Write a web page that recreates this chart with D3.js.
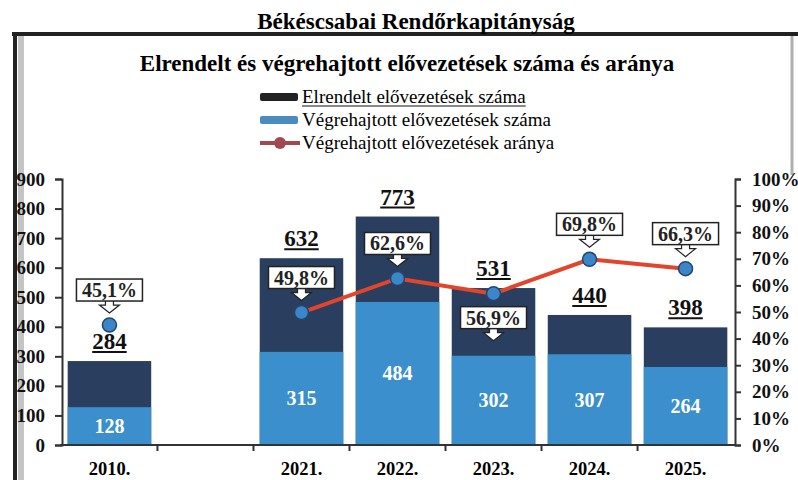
<!DOCTYPE html>
<html>
<head>
<meta charset="utf-8">
<script src="https://cdn.jsdelivr.net/npm/d3@7"></script>
<style>
  body { margin: 0; background: #fff; }
  text { font-family: "Liberation Serif", "Times New Roman", serif; }
</style>
</head>
<body>
<div id="chart"></div>
<script>
// data
var years = ["2010.", "", "2021.", "2022.", "2023.", "2024.", "2025."];
var ordered = [284, null, 632, 773, 531, 440, 398];     // Elrendelt
var executed = [128, null, 315, 484, 302, 307, 264];    // Végrehajtott
var ratio = [45.1, null, 49.8, 62.6, 56.9, 69.8, 66.3]; // arány %
var ratioLabels = ["45,1%", "", "49,8%", "62,6%", "56,9%", "69,8%", "66,3%"];
var calloutSide = ["above", "", "above", "above", "below", "above", "above"];
var leftTicks = [0, 100, 200, 300, 400, 500, 600, 700, 800, 900];
var rightTicks = [0, 10, 20, 30, 40, 50, 60, 70, 80, 90, 100];
var legendNames = ["Elrendelt elővezetések száma", "Végrehajtott elővezetések száma", "Végrehajtott elővezetések aránya"];

var width = 798, height = 480;
var darkBlue = "#2a3f5f", lightBlue = "#3b8fcc", red = "#e2452c";

var svg = d3.select("#chart")
    .append("svg")
    .attr("width", width)
    .attr("height", height);

// frame (scanned page border), drawn first so the labels sit on top
svg.append("line").attr("x1", 21).attr("x2", 21).attr("y1", 36).attr("y2", 480)
    .attr("stroke", "#c4c4c4").attr("stroke-width", 6);
svg.append("line").attr("x1", 15).attr("x2", 15).attr("y1", 32).attr("y2", 480)
    .attr("stroke", "#222").attr("stroke-width", 4);
svg.append("line").attr("x1", 12).attr("x2", 798).attr("y1", 34).attr("y2", 34)
    .attr("stroke", "#222").attr("stroke-width", 4);
svg.append("line").attr("x1", 792).attr("x2", 792).attr("y1", 36).attr("y2", 175)
    .attr("stroke", "#b0b0b0").attr("stroke-width", 3);

// titles
svg.append("text")
    .attr("x", 416).attr("y", 29)
    .attr("text-anchor", "middle")
    .attr("font-size", "23px").attr("font-weight", "bold")
    .text("Békéscsabai Rendőrkapitányság");

svg.append("text")
    .attr("x", 407).attr("y", 71)
    .attr("text-anchor", "middle")
    .attr("font-size", "23px").attr("font-weight", "bold")
    .text("Elrendelt és végrehajtott elővezetések száma és aránya");

// legend
var legend = svg.append("g").attr("transform", "translate(260,97)");
legendNames.forEach(function (name, i) {
    var g = legend.append("g").attr("transform", "translate(0," + (i * 23) + ")");
    if (i < 2) {
        g.append("rect")
            .attr("x", 0).attr("y", -4).attr("width", 38).attr("height", 8)
            .attr("rx", 2)
            .attr("fill", i == 0 ? "#222" : "#4a8cc0");
    } else {
        g.append("line")
            .attr("x1", 0).attr("x2", 40).attr("y1", 0).attr("y2", 0)
            .attr("stroke", "#a04a50").attr("stroke-width", 4);
        g.append("circle")
            .attr("cx", 20).attr("cy", 0).attr("r", 6)
            .attr("fill", "#a04a50");
    }
    var t = g.append("text")
        .attr("x", 42).attr("y", 6)
        .attr("font-size", "19px")
        .text(name);
    if (i == 0) {
        var w = t.node().getComputedTextLength();
        g.append("line")
            .attr("x1", 42).attr("x2", 42 + w)
            .attr("y1", 9).attr("y2", 9)
            .attr("stroke", "#111").attr("stroke-width", 1);
    }
});

// scales
var x = d3.scaleBand()
    .domain(years)
    .range([60, 735])
    .paddingInner(0.13)
    .paddingOuter(0.08);

var y = d3.scaleLinear().domain([0, 900]).range([445, 179]);
var yPct = d3.scaleLinear().domain([0, 100]).range([445, 179]);

// bars: total (dark) with executed part (light) from the bottom
var idx = d3.range(years.length).filter(function (i) { return ordered[i] != null; });

svg.selectAll(".barTotal")
    .data(idx)
    .enter()
    .append("rect")
    .attr("x", function (i) { return x(years[i]); })
    .attr("y", function (i) { return y(ordered[i]); })
    .attr("width", x.bandwidth())
    .attr("height", function (i) { return y(0) - y(ordered[i]); })
    .attr("fill", darkBlue);

svg.selectAll(".barExec")
    .data(idx)
    .enter()
    .append("rect")
    .attr("x", function (i) { return x(years[i]); })
    .attr("y", function (i) { return y(executed[i]); })
    .attr("width", x.bandwidth())
    .attr("height", function (i) { return y(0) - y(executed[i]); })
    .attr("fill", lightBlue);

// executed labels
svg.selectAll(".execLabel")
    .data(idx)
    .enter()
    .append("text")
    .attr("x", function (i) { return x(years[i]) + x.bandwidth() / 2; })
    .attr("y", function (i) { return (y(executed[i]) + y(0)) / 2 + 7; })
    .attr("text-anchor", "middle")
    .attr("font-size", "20px").attr("font-weight", "bold")
    .attr("fill", "#fff")
    .text(function (i) { return executed[i]; });

// total labels (underlined)
idx.forEach(function (i) {
    var cx = x(years[i]) + x.bandwidth() / 2;
    var top = y(ordered[i]);
    var t = svg.append("text")
        .attr("x", cx).attr("y", top - 12)
        .attr("text-anchor", "middle")
        .attr("font-size", "23px").attr("font-weight", "bold")
        .attr("fill", "#111")
        .text(ordered[i]);
    var w = t.node().getComputedTextLength();
    svg.append("line")
        .attr("x1", cx - w / 2).attr("x2", cx + w / 2)
        .attr("y1", top - 9).attr("y2", top - 9)
        .attr("stroke", "#111").attr("stroke-width", 2);
});

// axes
var xAxisY = 445;
svg.append("line")
    .attr("x1", 60).attr("x2", 735)
    .attr("y1", xAxisY).attr("y2", xAxisY)
    .attr("stroke", "#333").attr("stroke-width", 2);

var step = x.step();
years.forEach(function (c, i) {
    if (i < years.length - 1) {
        var bx = x(c) + x.bandwidth() + (step - x.bandwidth()) / 2;
        svg.append("line")
            .attr("x1", bx).attr("x2", bx)
            .attr("y1", xAxisY).attr("y2", xAxisY + 6)
            .attr("stroke", "#333").attr("stroke-width", 2);
    }
    svg.append("text")
        .attr("x", x(c) + x.bandwidth() / 2).attr("y", 475)
        .attr("text-anchor", "middle")
        .attr("font-size", "18.5px").attr("font-weight", "bold")
        .text(c);
});

var leftAxis = svg.append("g")
    .attr("transform", "translate(62,0)")
    .call(d3.axisLeft(y).tickValues(leftTicks).tickSize(7).tickPadding(10).tickFormat(d3.format("d")));

var rightAxis = svg.append("g")
    .attr("transform", "translate(735,0)")
    .call(d3.axisRight(yPct).tickValues(rightTicks).tickSize(6).tickPadding(11).tickFormat(function (d) { return d + "%"; }));

[leftAxis, rightAxis].forEach(function (a) {
    a.select(".domain").attr("stroke", "#333").attr("stroke-width", 2);
    a.selectAll(".tick line").attr("stroke", "#333").attr("stroke-width", 2);
    a.selectAll(".tick text")
        .attr("font-family", "Liberation Serif, serif")
        .attr("font-size", "19px").attr("font-weight", "bold")
        .attr("fill", "#111");
});

// ratio line
var line = d3.line()
    .defined(function (d, i) { return ratio[i] != null && i > 1; })
    .x(function (d, i) { return x(years[i]) + x.bandwidth() / 2; })
    .y(function (d, i) { return yPct(ratio[i]); });

svg.append("path")
    .datum(ratio)
    .attr("d", line)
    .attr("fill", "none")
    .attr("stroke", red)
    .attr("stroke-width", 4);

var pIdx = d3.range(years.length).filter(function (i) { return ratio[i] != null; });
svg.selectAll(".point")
    .data(pIdx)
    .enter()
    .append("circle")
    .attr("cx", function (i) { return x(years[i]) + x.bandwidth() / 2; })
    .attr("cy", function (i) { return yPct(ratio[i]); })
    .attr("r", 7)
    .attr("fill", "#3a86c8")
    .attr("stroke", "#24466e")
    .attr("stroke-width", 1.5);

// callouts
pIdx.forEach(function (i) {
    var cx = x(years[i]) + x.bandwidth() / 2;
    var py = yPct(ratio[i]);
    var bw = 66, bh = 22;
    var boxTop = calloutSide[i] == "above" ? py - 46 : py + 13;
    var ab = boxTop + bh; // arrow starts at the box bottom
    var g = svg.append("g");
    g.append("path")
        .attr("d", "M" + (cx - 4) + "," + (ab - 1) + "V" + (ab + 4) + "H" + (cx - 10) +
            "L" + cx + "," + (ab + 12) + "L" + (cx + 10) + "," + (ab + 4) +
            "H" + (cx + 4) + "V" + (ab - 1))
        .attr("fill", "#fff").attr("stroke", "#222").attr("stroke-width", 1.2);
    g.append("rect")
        .attr("x", cx - bw / 2).attr("y", boxTop)
        .attr("width", bw).attr("height", bh)
        .attr("fill", "#fff").attr("stroke", "#222").attr("stroke-width", 1.5);
    g.append("text")
        .attr("x", cx).attr("y", boxTop + 18)
        .attr("text-anchor", "middle")
        .attr("font-size", "20px").attr("font-weight", "bold")
        .attr("fill", "#222")
        .text(ratioLabels[i]);
});
</script>
</body>
</html>
